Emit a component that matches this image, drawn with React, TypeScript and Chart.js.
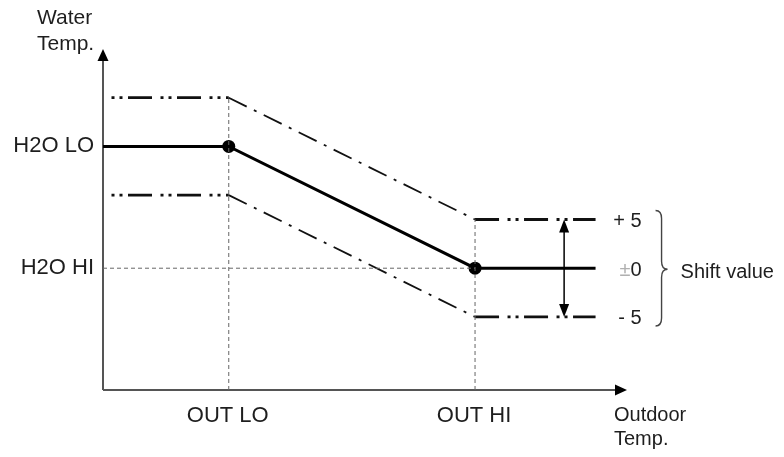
import React, { useEffect, useRef } from "react";
import { Chart, registerables } from "chart.js";
Chart.register(...registerables);

// ---- data ----
const outdoorBreaks = [0, 24, 71, 94]; // axis start, OUT LO, OUT HI, curve end
const waterCurve = [25, 25, 12.5, 12.5]; // H2O LO ... H2O HI
const shiftValues = [5, 0, -5];
const shiftLabels = ["+ 5", "±0", "- 5"];
const xTickValues = [24, 71];
const xTickLabels = ["OUT LO", "OUT HI"];
const yTickValues = [25, 12.5];
const yTickLabels = ["H2O LO", "H2O HI"];
const xAxisTitle = ["Outdoor", "Temp."];
const yAxisTitle = ["Water", "Temp."];
const braceLabel = "Shift value";
const X_MAX = 100;
const Y_MAX = 35;
const shiftArrowX = 88;

const FONT_CAPS = "22px 'Liberation Sans', Arial, sans-serif";
const FONT = "21px 'Liberation Sans', Arial, sans-serif";
const FONT_S = "20px 'Liberation Sans', Arial, sans-serif";
const TEXT = "#1e1e1e";

const hDash = [24, 8.5, 3, 5, 3, 5.5];
const sDash = [20, 8, 3, 8];

const overlay = {
  id: "overlay",
  beforeDatasetsDraw(chart: any) {
    const ctx = chart.ctx;
    const xs = chart.scales.x;
    const ys = chart.scales.y;
    const x0 = xs.getPixelForValue(0);
    const y0 = ys.getPixelForValue(0);
    const xEnd = xs.getPixelForValue(X_MAX);
    const yEnd = ys.getPixelForValue(Y_MAX);
    ctx.save();
    ctx.strokeStyle = "#555";
    ctx.lineWidth = 2;
    ctx.beginPath();
    ctx.moveTo(x0, y0);
    ctx.lineTo(x0, yEnd + 10);
    ctx.moveTo(x0, y0);
    ctx.lineTo(xEnd - 10, y0);
    ctx.stroke();
    ctx.fillStyle = "#000";
    ctx.beginPath();
    ctx.moveTo(x0, yEnd);
    ctx.lineTo(x0 - 5.5, yEnd + 12);
    ctx.lineTo(x0 + 5.5, yEnd + 12);
    ctx.closePath();
    ctx.fill();
    ctx.beginPath();
    ctx.moveTo(xEnd, y0);
    ctx.lineTo(xEnd - 12, y0 - 5.5);
    ctx.lineTo(xEnd - 12, y0 + 5.5);
    ctx.closePath();
    ctx.fill();
    ctx.restore();
  },
  afterDatasetsDraw(chart: any) {
    const ctx = chart.ctx;
    const xs = chart.scales.x;
    const ys = chart.scales.y;
    const x0 = xs.getPixelForValue(0);
    const y0 = ys.getPixelForValue(0);
    const xEnd = xs.getPixelForValue(X_MAX);
    ctx.save();
    ctx.fillStyle = TEXT;
    ctx.textBaseline = "middle";

    // tick labels
    ctx.font = FONT_CAPS;
    ctx.textAlign = "right";
    yTickLabels.forEach((t, i) => ctx.fillText(t, x0 - 9, ys.getPixelForValue(yTickValues[i])));
    ctx.textAlign = "center";
    xTickLabels.forEach((t, i) => ctx.fillText(t, xs.getPixelForValue(xTickValues[i]) - 1, y0 + 26));

    // axis titles
    ctx.font = FONT;
    ctx.textAlign = "left";
    ctx.fillText(yAxisTitle[0], 37, 18);
    ctx.fillText(yAxisTitle[1], 37, 44);
    ctx.font = FONT_S;
    ctx.fillText(xAxisTitle[0], xEnd - 13, y0 + 25);
    ctx.fillText(xAxisTitle[1], xEnd - 13, y0 + 49);

    // shift arrow
    const base = waterCurve[waterCurve.length - 1];
    const ax = xs.getPixelForValue(shiftArrowX);
    const aTop = ys.getPixelForValue(base + shiftValues[0]);
    const aBot = ys.getPixelForValue(base + shiftValues[2]);
    ctx.strokeStyle = "#000";
    ctx.lineWidth = 1.5;
    ctx.beginPath();
    ctx.moveTo(ax, aTop + 8);
    ctx.lineTo(ax, aBot - 8);
    ctx.stroke();
    ctx.fillStyle = "#000";
    ctx.beginPath();
    ctx.moveTo(ax, aTop);
    ctx.lineTo(ax - 5, aTop + 13);
    ctx.lineTo(ax + 5, aTop + 13);
    ctx.closePath();
    ctx.fill();
    ctx.beginPath();
    ctx.moveTo(ax, aBot);
    ctx.lineTo(ax - 5, aBot - 13);
    ctx.lineTo(ax + 5, aBot - 13);
    ctx.closePath();
    ctx.fill();

    // shift labels
    const lineEnd = xs.getPixelForValue(outdoorBreaks[outdoorBreaks.length - 1]);
    const lx = lineEnd + 46;
    ctx.font = FONT_S;
    ctx.textAlign = "right";
    shiftValues.forEach((s, i) => {
      const y = ys.getPixelForValue(base + s) + 2;
      const label = shiftLabels[i];
      if (label.startsWith("±")) {
        const rest = label.slice(1);
        const w = ctx.measureText(rest).width;
        ctx.fillStyle = TEXT;
        ctx.fillText(rest, lx, y);
        ctx.fillStyle = "#b0b0b0";
        ctx.fillText("±", lx - w, y);
      } else {
        ctx.fillStyle = TEXT;
        ctx.fillText(label, lx, y);
      }
    });

    // brace
    const top = aTop - 9;
    const bot = aBot + 9;
    const mid = ys.getPixelForValue(base) + 1;
    const bx = lx + 14;
    const bw = 12;
    ctx.strokeStyle = "#444";
    ctx.lineWidth = 1.4;
    ctx.beginPath();
    ctx.moveTo(bx, top);
    ctx.quadraticCurveTo(bx + bw / 2, top, bx + bw / 2, top + 8);
    ctx.lineTo(bx + bw / 2, mid - 8);
    ctx.quadraticCurveTo(bx + bw / 2, mid, bx + bw, mid);
    ctx.quadraticCurveTo(bx + bw / 2, mid, bx + bw / 2, mid + 8);
    ctx.lineTo(bx + bw / 2, bot - 8);
    ctx.quadraticCurveTo(bx + bw / 2, bot, bx, bot);
    ctx.stroke();

    ctx.textAlign = "left";
    ctx.fillStyle = TEXT;
    ctx.fillText(braceLabel, bx + bw + 13, mid + 3);
    ctx.restore();
  },
};

export default function App() {
  const ref = useRef<HTMLCanvasElement | null>(null);
  useEffect(() => {
    if (!ref.current) return;
    const base = waterCurve[waterCurve.length - 1];
    const guide = (pts: { x: number; y: number }[]) => ({
      data: pts,
      borderColor: "#666",
      borderWidth: 1,
      borderDash: [4, 3],
      pointRadius: 0,
      fill: false,
      clip: false as any,
    });
    const shifted = (s: number) => ({
      data: outdoorBreaks.map((x, i) => ({ x, y: waterCurve[i] + s })),
      borderColor: "#111",
      borderWidth: 2.8,
      borderDash: hDash,
      pointRadius: 0,
      fill: false,
      clip: false as any,
      segment: {
        borderDash: (c: any) => (c.p0DataIndex === 1 ? sDash : hDash),
        borderDashOffset: (c: any) => (c.p0DataIndex === 0 ? 24 : 0),
        borderWidth: (c: any) => (c.p0DataIndex === 1 ? 1.8 : 2.8),
      },
    });
    const chart = new Chart(ref.current, {
      type: "line",
      data: {
        datasets: [
          guide([
            { x: xTickValues[0], y: 0 },
            { x: xTickValues[0], y: yTickValues[0] + shiftValues[0] },
          ]),
          guide([
            { x: xTickValues[1], y: 0 },
            { x: xTickValues[1], y: base + shiftValues[0] },
          ]),
          guide([
            { x: 0, y: yTickValues[1] },
            { x: xTickValues[1], y: yTickValues[1] },
          ]),
          shifted(shiftValues[0]),
          shifted(shiftValues[2]),
          {
            data: outdoorBreaks.map((x, i) => ({ x, y: waterCurve[i] })),
            borderColor: "#000",
            borderWidth: 3,
            pointRadius: (c: any) => (c.dataIndex === 1 || c.dataIndex === 2 ? 6.5 : 0),
            pointBackgroundColor: "#000",
            pointBorderColor: "#000",
            pointBorderWidth: 0,
            fill: false,
            clip: false as any,
          },
        ] as any,
      },
      options: {
        responsive: false,
        devicePixelRatio: 1,
        animation: false,
        layout: { padding: { left: 103, right: 157, top: 49, bottom: 67 } },
        plugins: { legend: { display: false }, tooltip: { enabled: false } },
        elements: { line: { tension: 0 } },
        scales: {
          x: { type: "linear", min: 0, max: X_MAX, display: false },
          y: { type: "linear", min: 0, max: Y_MAX, display: false },
        },
      },
      plugins: [overlay],
    });
    return () => chart.destroy();
  }, []);
  return (
    <div style={{ position: "fixed", left: 0, top: 0, width: 784, height: 457, background: "#fff" }}>
      <canvas ref={ref} width={784} height={457} />
    </div>
  );
}
